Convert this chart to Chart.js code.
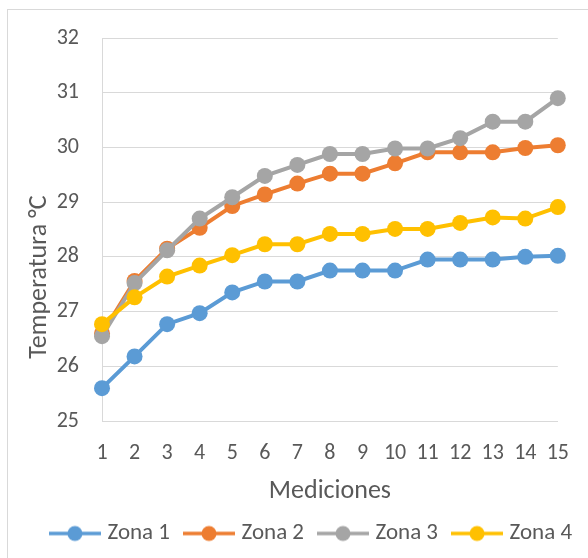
<!DOCTYPE html>
<html>
<head>
<meta charset="utf-8">
<script src="https://cdn.jsdelivr.net/npm/chart.js@4"></script>
<style>
  html, body { margin: 0; padding: 0; background: #fff; }
  #wrap { position: relative; width: 588px; height: 558px; }
</style>
</head>
<body>
<div id="wrap"><canvas id="tempChart" width="588" height="558"></canvas></div>
<script>
const mediciones = ["1", "2", "3", "4", "5", "6", "7", "8", "9", "10", "11", "12", "13", "14", "15"];
const zona1 = [25.6, 26.18, 26.77, 26.97, 27.35, 27.55, 27.55, 27.75, 27.75, 27.75, 27.95, 27.95, 27.95, 28.0, 28.02];
const zona2 = [26.6, 27.56, 28.15, 28.53, 28.93, 29.14, 29.34, 29.52, 29.52, 29.71, 29.91, 29.91, 29.91, 29.99, 30.04];
const zona3 = [26.55, 27.52, 28.12, 28.7, 29.09, 29.48, 29.68, 29.88, 29.88, 29.98, 29.98, 30.17, 30.47, 30.47, 30.9];
const zona4 = [26.77, 27.26, 27.64, 27.84, 28.03, 28.23, 28.23, 28.42, 28.42, 28.51, 28.51, 28.62, 28.72, 28.7, 28.91];
const yMin = 25;
const yMax = 32;

const textColor = "#595959";
const gridColor = "#D9D9D9";
const fontFamily = "Carlito, 'Open Sans', sans-serif";

// little line-with-dot swatch for the legend
function legendSwatch(color) {
  const c = document.createElement("canvas");
  c.width = 52;
  c.height = 18;
  const g = c.getContext("2d");
  g.strokeStyle = color;
  g.lineWidth = 3.5;
  g.beginPath();
  g.moveTo(0, 9);
  g.lineTo(52, 9);
  g.stroke();
  g.fillStyle = color;
  g.beginPath();
  g.arc(26, 9, 7.5, 0, Math.PI * 2);
  g.fill();
  return c;
}

function serie(label, data, color, order) {
  return {
    label: label,
    data: data,
    borderColor: color,
    backgroundColor: color,
    borderWidth: 4,
    pointRadius: 8,
    pointHoverRadius: 8,
    pointBorderWidth: 0,
    pointBackgroundColor: color,
    pointStyle: "circle",
    tension: 0,
    order: order,
    legendImg: legendSwatch(color)
  };
}

// outer frame of the chart object
const framePlugin = {
  id: "frame",
  beforeDraw(chart) {
    const g = chart.ctx;
    g.save();
    g.strokeStyle = gridColor;
    g.lineWidth = 1;
    g.strokeRect(7.5, 9.5, 700, 700);
    g.restore();
  }
};

// y axis title, sits a little below the middle of the axis
const yTitlePlugin = {
  id: "yTitle",
  afterDraw(chart) {
    const g = chart.ctx;
    g.save();
    g.translate(39, 277);
    g.rotate(-Math.PI / 2);
    g.fillStyle = textColor;
    g.font = "26px " + fontFamily;
    g.textAlign = "center";
    g.textBaseline = "middle";
    g.fillText("Temperatura °C", 0, 0);
    g.restore();
  }
};

// move the legend row into place
const legendShift = {
  id: "legendShift",
  afterLayout(chart) {
    chart.legend.left += 33;
    chart.legend.right += 33;
    chart.legend.top -= 3;
    chart.legend.bottom -= 3;
  }
};

const ctx = document.getElementById("tempChart").getContext("2d");
const chart = new Chart(ctx, {
  type: "line",
  data: {
    labels: mediciones,
    datasets: [
      serie("Zona 1", zona1, "#5B9BD5", 4),
      serie("Zona 2", zona2, "#ED7D31", 3),
      serie("Zona 3", zona3, "#A5A5A5", 2),
      serie("Zona 4", zona4, "#FFC000", 1)
    ]
  },
  plugins: [framePlugin, yTitlePlugin, legendShift],
  options: {
    responsive: false,
    animation: false,
    layout: { padding: { left: 0, right: 28, top: 38, bottom: 0 } },
    plugins: {
      tooltip: { enabled: false },
      legend: {
        position: "bottom",
        labels: {
          color: textColor,
          font: { family: fontFamily, size: 23 },
          usePointStyle: true,
          pointStyleWidth: 42,
          padding: 18,
          generateLabels(chart) {
            return chart.data.datasets.map((ds, i) => ({
              text: ds.label,
              fontColor: textColor,
              pointStyle: ds.legendImg,
              lineWidth: 0,
              strokeStyle: ds.borderColor,
              fillStyle: ds.borderColor,
              datasetIndex: i,
              hidden: false
            }));
          }
        }
      }
    },
    scales: {
      x: {
        offset: false,
        grid: { display: false, drawTicks: false },
        border: { display: true, color: gridColor, width: 1 },
        ticks: {
          color: textColor,
          font: { family: fontFamily, size: 22 },
          padding: 19,
          maxRotation: 0,
          autoSkip: false
        },
        title: {
          display: true,
          text: "Mediciones",
          color: textColor,
          font: { family: fontFamily, size: 26 },
          padding: { top: 0, bottom: 0 }
        },
        afterFit(scale) { scale.height = 86; }
      },
      y: {
        min: yMin,
        max: yMax,
        grid: { color: gridColor, lineWidth: 1, drawTicks: false },
        border: { display: true, color: gridColor, width: 1 },
        ticks: {
          stepSize: 1,
          color: textColor,
          font: { family: fontFamily, size: 22 },
          padding: 23
        },
        afterFit(scale) { scale.width = 102; }
      }
    }
  }
});
</script>
</body>
</html>
